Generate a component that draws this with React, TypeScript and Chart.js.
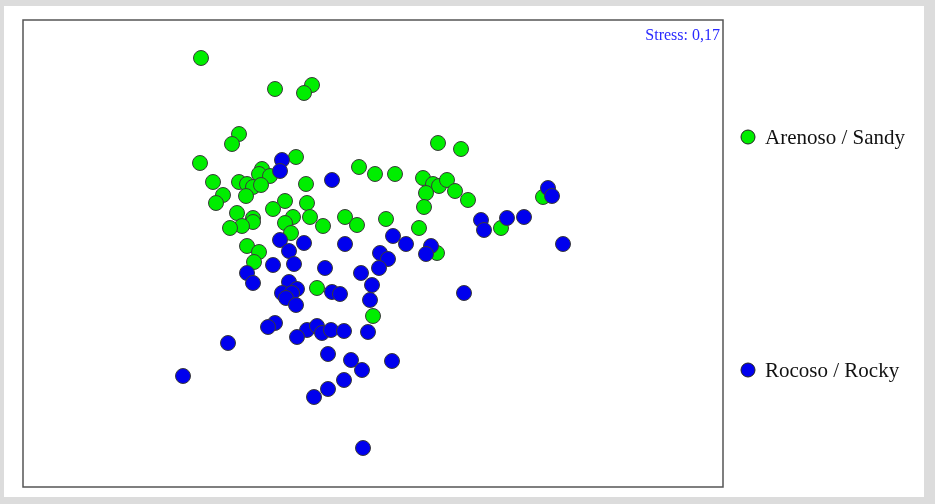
import React, { useEffect, useRef } from "react";
import { Chart, registerables } from "chart.js";

Chart.register(...registerables);

// NMDS ordination scores (plot units)
const arenosoX = [178, 252, 289, 281, 216, 209, 177, 273, 239, 236, 247, 336, 216, 190, 224, 230, 238, 283, 200, 223, 193, 262, 284, 250, 214, 230, 230, 270, 262, 287, 322, 334, 300, 219, 207, 268, 224, 236, 231, 415, 438, 352, 372, 400, 410, 416, 424, 403, 432, 445, 401, 363, 396, 520, 478, 414, 294, 350];
const arenosoY = [429, 398, 402, 394, 353, 343, 324, 330, 318, 313, 311, 320, 305, 305, 303, 300, 302, 303, 292, 291, 284, 286, 284, 278, 274, 269, 265, 270, 264, 270, 270, 262, 261, 261, 259, 254, 241, 235, 225, 344, 338, 313, 313, 309, 303, 301, 307, 294, 296, 287, 280, 268, 259, 290, 259, 234, 199, 171];

const rocosoX = [259, 257, 309, 257, 281, 322, 266, 250, 271, 302, 224, 338, 230, 266, 274, 259, 269, 263, 273, 309, 317, 349, 347, 252, 245, 284, 294, 299, 308, 321, 274, 345, 205, 305, 328, 339, 369, 160, 321, 305, 291, 340, 370, 383, 408, 403, 357, 365, 356, 525, 529, 458, 461, 484, 501, 540, 441];
const rocosoY = [327, 316, 307, 247, 244, 243, 236, 222, 223, 219, 214, 214, 204, 205, 198, 194, 194, 189, 182, 195, 193, 202, 187, 164, 160, 157, 161, 154, 157, 156, 150, 155, 144, 133, 127, 117, 126, 111, 107, 98, 90, 39, 251, 243, 241, 233, 234, 228, 219, 299, 291, 267, 257, 269, 270, 243, 194];

const seriesNames = ["Arenoso / Sandy", "Rocoso / Rocky"];
const seriesColors = ["#00ee00", "#0000ee"];
const stressLabel = "Stress: 0,17";
const xRange = [0, 700];
const yRange = [0, 467];

const toPoints = (xs: number[], ys: number[]) => xs.map((x, i) => ({ x, y: ys[i] }));

export default function App() {
  const ref = useRef<HTMLCanvasElement | null>(null);

  useEffect(() => {
    if (!ref.current) return;
    const framePlugin = {
      id: "frame",
      beforeDatasetsDraw(chart: any) {
        const { ctx, chartArea: a } = chart;
        ctx.save();
        ctx.strokeStyle = "#555555";
        ctx.lineWidth = 1.5;
        ctx.strokeRect(a.left, a.top, a.right - a.left, a.bottom - a.top);
        ctx.restore();
      },
      afterDraw(chart: any) {
        const { ctx, chartArea: a } = chart;
        ctx.save();
        ctx.fillStyle = "#2a2aff";
        ctx.font = '16px "Liberation Serif"';
        ctx.textAlign = "right";
        ctx.textBaseline = "alphabetic";
        ctx.fillText(stressLabel, a.right - 3, a.top + 20);
        // legend
        const legendY = [137, 370];
        seriesNames.forEach((name, i) => {
          ctx.beginPath();
          ctx.arc(748, legendY[i], 7, 0, Math.PI * 2);
          ctx.fillStyle = seriesColors[i];
          ctx.fill();
          ctx.lineWidth = 1;
          ctx.strokeStyle = "#222";
          ctx.stroke();
          ctx.fillStyle = "#111";
          ctx.font = '21px "Liberation Serif"';
          ctx.textAlign = "left";
          ctx.textBaseline = "alphabetic";
          ctx.fillText(name, 765, legendY[i] + 7);
        });
        ctx.restore();
      },
    };

    const chart = new Chart(ref.current, {
      type: "scatter",
      data: {
        datasets: [
          {
            label: seriesNames[0],
            data: toPoints(arenosoX, arenosoY),
            backgroundColor: seriesColors[0],
            borderColor: "#3a3a3a",
            borderWidth: 1,
            pointRadius: 7.5,
            order: 2,
          },
          {
            label: seriesNames[1],
            data: toPoints(rocosoX, rocosoY),
            backgroundColor: seriesColors[1],
            borderColor: "#3a3a3a",
            borderWidth: 1,
            pointRadius: 7.5,
            order: 1,
          },
        ],
      },
      options: {
        animation: false,
        responsive: false,
        devicePixelRatio: 1,
        layout: { padding: { left: 23, top: 20, right: 212, bottom: 17 } },
        plugins: { legend: { display: false }, tooltip: { enabled: false } },
        scales: {
          x: { type: "linear", min: xRange[0], max: xRange[1], display: false },
          y: { type: "linear", min: yRange[0], max: yRange[1], display: false },
        },
      },
      plugins: [framePlugin],
    });
    return () => chart.destroy();
  }, []);

  return (
    <div style={{ position: "fixed", left: 0, top: 0, width: 935, height: 504, background: "#dcdcdc" }}>
      <div style={{ position: "absolute", left: 4, top: 6, width: 920, height: 491, background: "#ffffff" }} />
      <canvas ref={ref} width={935} height={504} style={{ position: "absolute", left: 0, top: 0 }} />
    </div>
  );
}
